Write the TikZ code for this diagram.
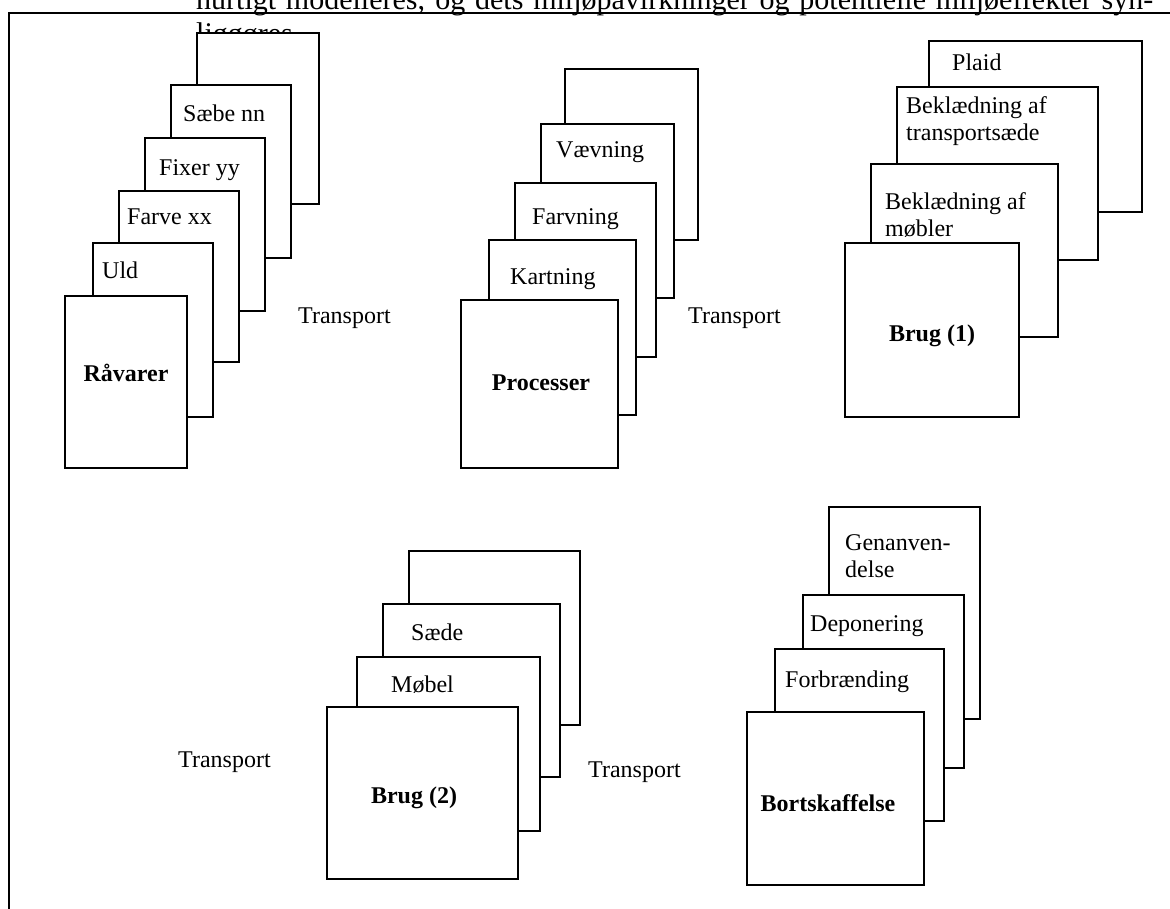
\documentclass[tikz,border=0pt]{standalone}
\usepackage{fontspec}
\setmainfont{Liberation Serif}

\tikzset{
  card/.style={draw, fill=white, line width=1.9pt},
  frame/.style={line width=2pt},
  lbl/.style={anchor=west, inner sep=0pt, font=\fontsize{24}{27}\selectfont, text height=16pt, text depth=5pt},
  twoline/.style={anchor=west, inner sep=0pt, align=left, font=\fontsize{24}{27}\selectfont},
  head/.style={inner sep=0pt, font=\fontsize{24}{27}\selectfont\bfseries},
  body/.style={anchor=base west, inner sep=0pt, font=\fontsize{30}{33}\selectfont}
}

\begin{document}
\begin{tikzpicture}[x=1pt, y=-1pt]
  \useasboundingbox (0,0) rectangle (1170,909);

  % text of the page behind the figure
  \node[body] (line1) at (196,10) {\makebox[957pt][s]{hurtigt modelleres, og dets miljøpåvirkninger og potentielle miljøeffekter syn-}};
  \node[body] (line2) at (196,43.5) {liggøres};

  % frame
  \draw[frame] (8.7,915) -- (8.7,12.7) -- (1175,12.7);

  % raavarer
  \foreach \a/\b/\c/\d in {197/33/319/204, 171/85/291/258, 145/138/265/311,
                           119/191/239/362, 93/243/213/417, 65/296/187/468}
    \draw[card] (\a,\b) rectangle (\c,\d);
  \node[lbl] (saebe) at (183,116) {Sæbe nn};
  \node[lbl] (fixer) at (159,170) {Fixer yy};
  \node[lbl] (farve) at (127,219) {Farve xx};
  \node[lbl] (uld) at (102,273) {Uld};
  \node[head] (raavarer) at (126,373) {Råvarer};

  % processer
  \foreach \a/\b/\c/\d in {565/69/698/240, 541/124/674/298, 515/183/656/357,
                           489/240/636/415, 461/300/618/468}
    \draw[card] (\a,\b) rectangle (\c,\d);
  \node[lbl] (vaevning) at (556,152) {Vævning};
  \node[lbl] (farvning) at (532,219) {Farvning};
  \node[lbl] (kartning) at (510,279) {Kartning};
  \node[head] (processer) at (541,383) {Processer};

  % brug 1
  \foreach \a/\b/\c/\d in {929/41/1142/212, 897/87/1098/260, 871/164/1058/337,
                           845/243/1019/417}
    \draw[card] (\a,\b) rectangle (\c,\d);
  \node[lbl] (plaid) at (952,65) {Plaid};
  \node[twoline] (beklsaede) at (906,121) {Beklædning af\\transportsæde};
  \node[twoline] (beklmoebler) at (885,215) {Beklædning af\\møbler};
  \node[head] (brug1) at (932,336) {Brug (1)};

  % brug 2
  \foreach \a/\b/\c/\d in {409/551/580/725, 383/604/560/777, 357/657/540/831,
                           327/707/518/879}
    \draw[card] (\a,\b) rectangle (\c,\d);
  \node[lbl] (saede) at (411,635) {Sæde};
  \node[lbl] (moebel) at (391,687) {Møbel};
  \node[head] (brug2) at (414,798) {Brug (2)};

  % bortskaffelse
  \foreach \a/\b/\c/\d in {829/507/980/719, 803/595/964/768, 775/649/944/821,
                           747/712/924/885}
    \draw[card] (\a,\b) rectangle (\c,\d);
  \node[twoline] (genanv) at (845,556) {Genanven-\\delse};
  \node[lbl] (deponering) at (810,626) {Deponering};
  \node[lbl] (forbraending) at (785,682) {Forbrænding};
  \node[head] (bortskaffelse) at (828,803) {Bortskaffelse};

  % transport
  \node[lbl] (transp1) at (298,318) {Transport};
  \node[lbl] (transp2) at (688,318) {Transport};
  \node[lbl] (transp3) at (178,762) {Transport};
  \node[lbl] (transp4) at (588,772) {Transport};
\end{tikzpicture}
\end{document}
